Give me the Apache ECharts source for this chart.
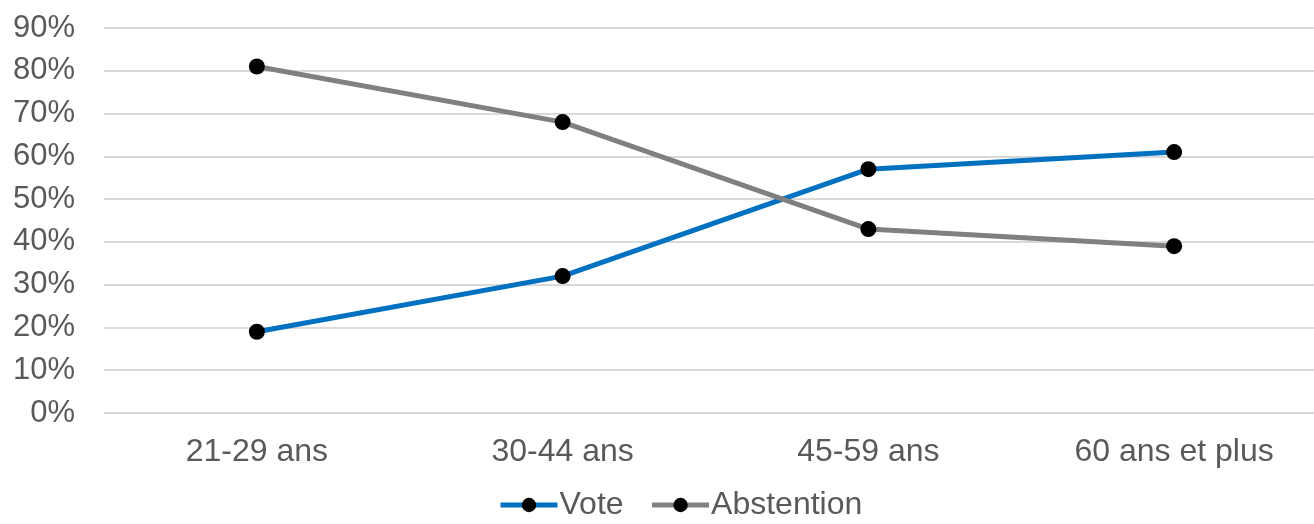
<!DOCTYPE html>
<html><head><meta charset="utf-8">
<script src="https://cdn.jsdelivr.net/npm/echarts@6/dist/echarts.min.js"></script>
<style>html,body{margin:0;padding:0;background:#fff}#c{width:1314px;height:524px}</style>
</head><body><div id="c"></div>
<script>
const categories = ['21-29 ans', '30-44 ans', '45-59 ans', '60 ans et plus'];
const vote = [19, 32, 57, 61];
const abstention = [81, 68, 43, 39];
const yTicks = { min: 0, max: 90, interval: 10 };

const chart = echarts.init(document.getElementById('c'));
const font = 'Liberation Sans, Arial, sans-serif';
chart.setOption({
  animation: false,
  grid: { left: 104, top: 28, width: 1223, height: 385, outerBoundsMode: 'none', containLabel: false },
  xAxis: {
    type: 'category', data: categories, boundaryGap: true,
    axisLine: { show: false }, axisTick: { show: false },
    axisLabel: { color: '#595959', fontSize: 32, fontFamily: font, margin: 23 }
  },
  yAxis: {
    type: 'value', min: yTicks.min, max: yTicks.max, interval: yTicks.interval,
    axisLine: { show: false }, axisTick: { show: false },
    axisLabel: { color: '#595959', fontSize: 31, fontFamily: font, margin: 29, formatter: '{value}%' },
    splitLine: { lineStyle: { color: '#d9d9d9', width: 2 } }
  },
  legend: {
    bottom: -2, left: 493, itemWidth: 57, itemHeight: 18, itemGap: 26,
    lineStyle: { width: 5 },
    textStyle: { color: '#595959', fontSize: 32, fontFamily: font, padding: [0,0,0,-3] },
    data: ['Vote', 'Abstention']
  },
  series: [
    { name: 'Vote', type: 'line', data: vote, symbol: 'circle', symbolSize: 16,
      lineStyle: { color: '#0070C0', width: 5 }, itemStyle: { color: '#000', borderWidth: 0 } , color: '#0070C0'},
    { name: 'Abstention', type: 'line', data: abstention, symbol: 'circle', symbolSize: 16,
      lineStyle: { color: '#808080', width: 5 }, itemStyle: { color: '#000', borderWidth: 0 }, color: '#808080' }
  ]
});
</script></body></html>
